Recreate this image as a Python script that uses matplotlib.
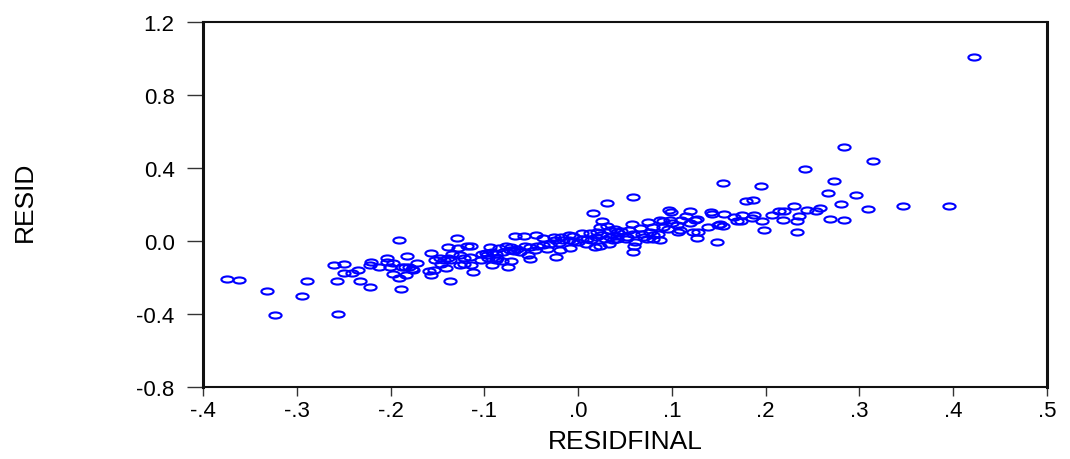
import numpy as np
import matplotlib
matplotlib.use("Agg")
import matplotlib.pyplot as plt
from matplotlib.path import Path

# RESIDFINAL (x) vs RESID (y)
residfinal = [
    -0.374, -0.362, -0.332, -0.323, -0.294, -0.289, -0.256, -0.257, -0.260, -0.250,
    -0.250, -0.241, -0.235, -0.233, -0.222, -0.222, -0.221, -0.212, -0.204, -0.204,
    -0.201, -0.197, -0.191, -0.182, -0.197, -0.191, -0.184, -0.189, -0.188, -0.185,
    -0.180, -0.176, -0.172, -0.177,
    -0.129, -0.139, -0.128, -0.119, -0.114, -0.157, -0.159, -0.154, -0.157, -0.153,
    -0.147, -0.143, -0.139, -0.134, -0.126, -0.122, -0.115, -0.146, -0.141, -0.137,
    -0.126, -0.122, -0.114, -0.112, -0.137, -0.103, -0.104, -0.097, -0.094, -0.092,
    -0.088, -0.084, -0.077, -0.072, -0.067, -0.080, -0.073, -0.069, -0.065, -0.096,
    -0.088, -0.081, -0.072, -0.092, -0.075, -0.087, -0.098,
    0.031, 0.016, 0.026, 0.023, 0.031, -0.058, -0.045, -0.037, -0.026, -0.018,
    -0.010, -0.005, 0.004, 0.013, 0.020, 0.034, 0.041, -0.068, -0.062, -0.057,
    -0.051, -0.046, -0.044, -0.037, -0.033, -0.030, -0.025, -0.020, -0.016, -0.010,
    -0.005, 0.000, 0.004, 0.008, 0.014, 0.019, 0.024, 0.029, 0.034, 0.037,
    0.041, -0.019, -0.009, 0.018, 0.023, 0.033, -0.053, -0.051, -0.024, 0.009,
    0.059, 0.097, 0.099, 0.119, 0.115, 0.125, 0.127, 0.142, 0.143, 0.155,
    0.151, 0.039, 0.046, 0.054, 0.057, 0.066, 0.074, 0.080, 0.087, 0.091,
    0.098, 0.100, 0.105, 0.110, 0.119, 0.041, 0.052, 0.059, 0.068, 0.077,
    0.085, 0.091, 0.096, 0.107, 0.109, 0.123, 0.128, 0.139, 0.149, 0.051,
    0.061, 0.060, 0.058, 0.073, 0.080, 0.087, 0.127, 0.148, 0.080, 0.070,
    0.242, 0.195, 0.179, 0.186, 0.156, 0.166, 0.175, 0.188, 0.207, 0.214,
    0.220, 0.230, 0.244, 0.254, 0.258, 0.155, 0.169, 0.174, 0.185, 0.196,
    0.219, 0.233, 0.236, 0.198, 0.233,
    0.284, 0.314, 0.273, 0.267, 0.296, 0.280, 0.309, 0.346, 0.269, 0.284,
    0.4225, 0.395,
]
resid = [
    -0.208, -0.213, -0.273, -0.408, -0.304, -0.217, -0.399, -0.220, -0.131, -0.126,
    -0.173, -0.178, -0.158, -0.220, -0.253, -0.134, -0.113, -0.142, -0.093, -0.113,
    -0.142, -0.122, 0.004, -0.080, -0.182, -0.200, -0.187, -0.264, -0.145, -0.145,
    -0.145, -0.160, -0.118, -0.156,
    0.018, -0.035, -0.037, -0.027, -0.027, -0.067, -0.166, -0.157, -0.189, -0.102,
    -0.091, -0.102, -0.091, -0.073, -0.076, -0.091, -0.087, -0.124, -0.147, -0.102,
    -0.133, -0.127, -0.131, -0.171, -0.219, -0.069, -0.102, -0.078, -0.033, -0.062,
    -0.069, -0.037, -0.026, -0.033, 0.027, -0.060, -0.051, -0.051, -0.044, -0.091,
    -0.106, -0.111, -0.108, -0.131, -0.144, -0.091, -0.066,
    0.206, 0.153, 0.110, 0.077, 0.082, 0.028, 0.035, 0.017, 0.022, 0.022,
    0.031, 0.026, 0.046, 0.044, 0.050, 0.062, 0.050, -0.054, -0.058, -0.029,
    -0.032, -0.047, -0.029, -0.023, -0.042, -0.014, 0.004, -0.011, 0.004, 0.008,
    0.000, -0.005, 0.013, -0.014, 0.004, 0.022, 0.031, 0.013, 0.022, 0.004,
    0.013, -0.047, -0.036, -0.032, -0.029, -0.018, -0.078, -0.098, -0.087, 0.013,
    0.240, 0.171, 0.157, 0.166, 0.135, 0.117, 0.122, 0.159, 0.146, 0.316,
    0.095, 0.067, 0.055, 0.058, 0.095, 0.073, 0.106, 0.077, 0.113, 0.109,
    0.117, 0.098, 0.086, 0.113, 0.098, 0.026, 0.022, 0.040, 0.037, 0.049,
    0.040, 0.077, 0.067, 0.049, 0.058, 0.047, 0.047, 0.075, 0.086, 0.013,
    -0.005, -0.029, -0.062, 0.013, 0.013, 0.004, 0.017, -0.007, 0.031, 0.022,
    0.392, 0.301, 0.221, 0.226, 0.150, 0.131, 0.144, 0.142, 0.144, 0.164,
    0.162, 0.193, 0.171, 0.164, 0.181, 0.080, 0.110, 0.110, 0.126, 0.111,
    0.113, 0.111, 0.139, 0.059, 0.051,
    0.514, 0.437, 0.328, 0.261, 0.254, 0.201, 0.177, 0.193, 0.119, 0.117,
    1.009, 0.191,
]

xticks = [-0.4, -0.3, -0.2, -0.1, 0.0, 0.1, 0.2, 0.3, 0.4, 0.5]
xticklabels = ['-.4', '-.3', '-.2', '-.1', '.0', '.1', '.2', '.3', '.4', '.5']
yticks = [-0.8, -0.4, 0.0, 0.4, 0.8, 1.2]
yticklabels = ['-0.8', '-0.4', '0.0', '0.4', '0.8', '1.2']

plt.rcParams['font.family'] = ['Liberation Sans', 'DejaVu Sans']

# flat open ellipse marker
circ = Path.unit_circle()
ellipse = Path(circ.vertices * np.array([1.0, 0.5]), circ.codes)

fig = plt.figure(figsize=(10.7, 4.6), dpi=100)
ax = fig.add_axes([203 / 1070, 72 / 460, 844 / 1070, 365 / 460])

ax.plot(residfinal, resid, linestyle='none', marker=ellipse, markersize=8.8,
        markerfacecolor='none', markeredgecolor='#0000ff', markeredgewidth=1.5)

ax.set_xlim(-0.4, 0.5)
ax.set_ylim(-0.8, 1.2)
ax.set_xticks(xticks)
ax.set_xticklabels(xticklabels)
ax.set_yticks(yticks)
ax.set_yticklabels(yticklabels)

ax.tick_params(axis='y', direction='out', length=11.5, width=1.0, pad=9,
               labelsize=16, color='#333333')
ax.tick_params(axis='x', direction='out', length=6.5, width=1.0, pad=3,
               labelsize=16, color='#333333')

for side in ['left', 'right']:
    ax.spines[side].set_linewidth(2.2)
for side in ['top', 'bottom']:
    ax.spines[side].set_linewidth(1.5)
for s in ax.spines.values():
    s.set_color('#111111')

ax.set_xlabel('RESIDFINAL', fontsize=19)
ax.set_ylabel('RESID', fontsize=19)
ax.xaxis.set_label_coords(0.5, -0.115)
ax.yaxis.set_label_coords(-0.197, 0.51)

fig.savefig('out.png', dpi=100)
